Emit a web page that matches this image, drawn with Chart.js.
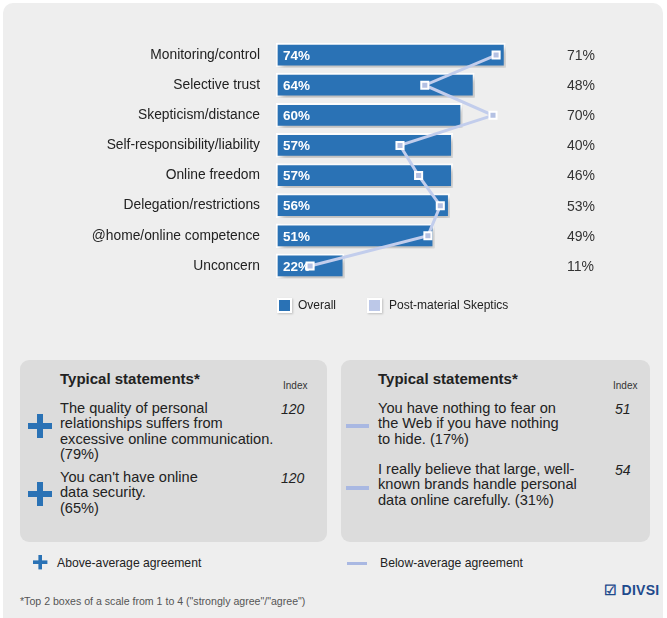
<!DOCTYPE html>
<html>
<head>
<meta charset="utf-8">
<script src="https://cdn.jsdelivr.net/npm/chart.js@4.4.1/dist/chart.umd.min.js"></script>
<style>
  html, body { margin: 0; padding: 0; background: #fff; }
  body { width: 667px; height: 618px; position: relative; overflow: hidden; font-family: "Liberation Sans", Arial, sans-serif; color: #222; }
  .panel { position: absolute; left: 3px; top: 3px; width: 660px; height: 640px; background: #eeeeee; border-radius: 10px; }
  #chartWrap { position: absolute; left: 0; top: 0; width: 667px; height: 330px; }
  .legend { position: absolute; top: 298px; font-size: 12px; color: #222; }
  .legend .sq { position: absolute; top: 0; width: 11px; height: 11px; border: 2px solid #fff; box-shadow: 1px 1px 2px rgba(0,0,0,0.2); }
  .legend span.t { position: absolute; top: 0; white-space: nowrap; }
  .box { position: absolute; top: 360px; height: 182px; background: #dcdcdc; border-radius: 9px; }
  .box h3 { position: absolute; margin: 0; top: 10px; font-size: 15px; font-weight: bold; color: #222; }
  .idx { position: absolute; top: 20px; font-size: 10px; color: #333; }
  .stmt { position: absolute; font-size: 14.6px; line-height: 15.3px; color: #222; white-space: nowrap; }
  .num { position: absolute; font-size: 14px; font-style: italic; color: #222; }
  .plus { position: absolute; width: 24px; height: 24px; }
  .plus::before, .plus::after { content: ""; position: absolute; background: #2a72b5; }
  .plus::before { left: 0; top: 9px; width: 24px; height: 6px; }
  .plus::after { left: 9px; top: 0; width: 6px; height: 24px; }
  .plus.small { transform: scale(0.6); transform-origin: 0 0; }
  .minus { position: absolute; width: 23px; height: 4px; background: #a9b8e2; }
  .foot { position: absolute; font-size: 12.2px; color: #222; }
  .note { position: absolute; left: 20px; top: 595px; font-size: 10.6px; color: #555; }
  .logo { position: absolute; left: 604px; top: 582px; font-size: 14px; font-weight: bold; color: #1e4a8c; letter-spacing: 0.3px; }
</style>
</head>
<body>
<div class="panel"></div>
<div id="chartWrap"><canvas id="c" width="667" height="330"></canvas></div>

<div class="legend" style="left:0">
  <div class="sq" style="left:277px; background:#2a72b5"></div>
  <span class="t" style="left:298px">Overall</span>
  <div class="sq" style="left:367px; background:#bcc8e8"></div>
  <span class="t" style="left:389px">Post-material Skeptics</span>
</div>

<div class="box" style="left:20px; width:307px">
  <h3 style="left:40px">Typical statements*</h3>
  <div class="idx" style="left:263px">Index</div>
  <div class="plus" style="left:8px; top:54px"></div>
  <div class="stmt" style="left:40px; top:41px">The quality of personal<br>relationships suffers from<br>excessive online communication.<br>(79%)</div>
  <div class="num" style="left:261px; top:41px">120</div>
  <div class="plus" style="left:8px; top:122px"></div>
  <div class="stmt" style="left:40px; top:110px">You can't have online<br>data security.<br>(65%)</div>
  <div class="num" style="left:261px; top:110px">120</div>
</div>

<div class="box" style="left:341px; width:309px">
  <h3 style="left:37px">Typical statements*</h3>
  <div class="idx" style="left:272px">Index</div>
  <div class="minus" style="left:5px; top:64px"></div>
  <div class="stmt" style="left:37px; top:41px">You have nothing to fear on<br>the Web if you have nothing<br>to hide. (17%)</div>
  <div class="num" style="left:274px; top:41px">51</div>
  <div class="minus" style="left:5px; top:126px"></div>
  <div class="stmt" style="left:37px; top:102px">I really believe that large, well-<br>known brands handle personal<br>data online carefully. (31%)</div>
  <div class="num" style="left:274px; top:102px">54</div>
</div>

<div class="plus small" style="left:33px; top:555px"></div>
<div class="foot" style="left:57px; top:556px">Above-average agreement</div>
<div class="minus" style="left:347px; top:562px; height:3px; width:20px"></div>
<div class="foot" style="left:380px; top:556px">Below-average agreement</div>
<div class="note">*Top 2 boxes of a scale from 1 to 4 ("strongly agree"/"agree")</div>
<div class="logo">&#9745; DIVSI</div>

<script>
const categories = [
  'Monitoring/control',
  'Selective trust',
  'Skepticism/distance',
  'Self-responsibility/liability',
  'Online freedom',
  'Delegation/restrictions',
  '@home/online competence',
  'Unconcern',
];
const overallValues = [74, 64, 60, 57, 57, 56, 51, 22];
const skepticsValues = [71, 48, 70, 40, 46, 53, 49, 11];

const BLUE = '#2a72b5';
const LIGHT = '#c2cdec';
const FONT = '"Liberation Sans", Arial, sans-serif';

// soft shadow under the bars, then the % labels inside the bars and at the right
const barExtras = {
  id: 'barExtras',
  beforeDatasetDraw(chart, args) {
    if (args.index !== 0) return;
    const ctx = chart.ctx;
    ctx.save();
    ctx.shadowColor = 'rgba(0,0,0,0.28)';
    ctx.shadowBlur = 6;
    ctx.shadowOffsetX = 3;
    ctx.shadowOffsetY = 4;
  },
  afterDatasetDraw(chart, args) {
    if (args.index !== 0) return;
    const ctx = chart.ctx;
    ctx.restore();
    const bars = chart.getDatasetMeta(0).data;
    const xs = chart.scales.x;
    ctx.save();
    ctx.textBaseline = 'middle';
    ctx.textAlign = 'left';
    bars.forEach((bar, i) => {
      ctx.font = `bold 13.5px ${FONT}`;
      ctx.fillStyle = '#fff';
      ctx.fillText(`${overallValues[i]}%`, xs.getPixelForValue(0) + 7, bar.y + 1);
      ctx.font = `14px ${FONT}`;
      ctx.fillStyle = '#333';
      ctx.fillText(`${skepticsValues[i]}%`, 567, bar.y + 1);
    });
    ctx.restore();
  },
};

new Chart(document.getElementById('c'), {
  type: 'bar',
  data: {
    labels: categories,
    datasets: [
      {
        label: 'Overall',
        data: overallValues,
        backgroundColor: BLUE,
        borderColor: '#ffffff',
        borderWidth: 2,
        borderSkipped: false,
        barThickness: 24,
        order: 1,
      },
      {
        type: 'line',
        label: 'Post-material Skeptics',
        indexAxis: 'y',
        data: skepticsValues,
        borderColor: LIGHT,
        borderWidth: 3,
        pointStyle: 'rect',
        pointRadius: 5,
        pointBackgroundColor: '#b4c1e3',
        pointBorderColor: '#ffffff',
        pointBorderWidth: 2,
        tension: 0,
        order: 0,
      },
    ],
  },
  options: {
    indexAxis: 'y',
    responsive: false,
    animation: false,
    devicePixelRatio: 1,
    layout: { padding: { top: 40, bottom: 49, right: 81, left: 0 } },
    plugins: {
      legend: { display: false },
      tooltip: { enabled: false },
    },
    scales: {
      x: { display: false, min: 0, max: 100 },
      y: {
        afterFit: (scale) => { scale.width = 276; },
        grid: { display: false, drawTicks: false },
        border: { display: false },
        ticks: { color: '#222', padding: 16, font: { family: FONT, size: 13.8 } },
      },
    },
  },
  plugins: [barExtras],
});
</script>
</body>
</html>
